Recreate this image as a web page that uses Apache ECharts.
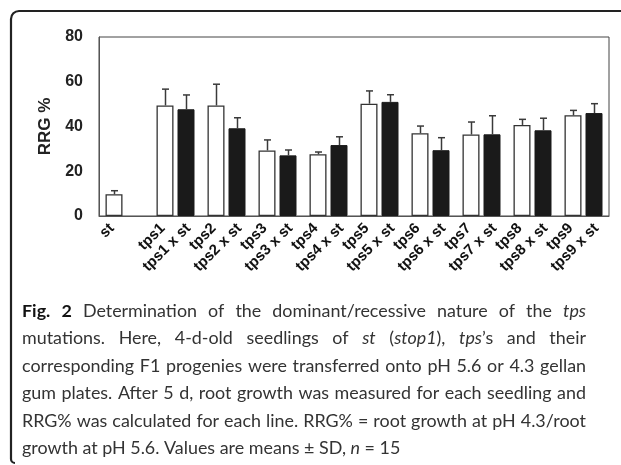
<!DOCTYPE html>
<html><head><meta charset="utf-8">
<script src="https://cdn.jsdelivr.net/npm/echarts@6/dist/echarts.min.js"></script>
<style>html,body{margin:0;padding:0;background:#fff}#c{width:621px;height:465px}</style>
</head><body><div id="c"></div>
<script>
const groups = ['st','tps1','tps2','tps3','tps4','tps5','tps6','tps7','tps8','tps9'];
const barLabels = ['st','','tps1','tps1 x st','tps2','tps2 x st','tps3','tps3 x st','tps4','tps4 x st',
  'tps5','tps5 x st','tps6','tps6 x st','tps7','tps7 x st','tps8','tps8 x st','tps9','tps9 x st'];
const parentValues = [9.7, 49.4, 49.4, 29.3, 27.6, 50.2, 37.0, 36.4, 40.7, 45.0];
const parentSD     = [1.6, 7.3, 9.5, 4.7, 1.0, 5.7, 3.2, 5.6, 2.5, 2.2];
const f1Values     = [null, 47.7, 39.2, 27.1, 31.7, 51.0, 29.4, 36.5, 38.3, 46.0];
const f1SD         = [null, 6.4, 4.7, 2.4, 3.7, 3.2, 5.6, 8.3, 5.4, 4.2];
const yTicks = [0, 20, 40, 60, 80];
const captionLines = [
  '{b|Fig.} {b|2} Determination of the dominant/recessive nature of the {i|tps}',
  'mutations. Here, 4-d-old seedlings of {i|st} ({i|stop1}), {i|tps}\u2019s and their',
  'corresponding F1 progenies were transferred onto pH 5.6 or 4.3 gellan',
  'gum plates. After 5 d, root growth was measured for each seedling and',
  'RRG% was calculated for each line. RRG% = root growth at pH 4.3/root',
  'growth at pH 5.6. Values are means \u00b1 SD, {i|n} = 15'
];

const BAR_W = 17, GAP = 4, OFF = (BAR_W + GAP) / 2;

function errRender(offset) {
  return function (params, api) {
    const c = api.value(0);
    const x = Math.round(api.coord([c, 0])[0] + offset) + 0.5;
    const y1 = api.coord([c, api.value(1)])[1];
    const y2 = api.coord([c, api.value(1) + api.value(2)])[1];
    const st = { stroke: '#3a3a3a', lineWidth: 1.5 };
    return { type: 'group', children: [
      { type: 'line', shape: { x1: x, y1: y1, x2: x, y2: y2 }, style: st },
      { type: 'line', shape: { x1: x - 3.5, y1: y2, x2: x + 3.5, y2: y2 }, style: st }
    ]};
  };
}

// ---- caption layout (justified like the reference) ----
const capFont = 'Lato';
const capLeft = 22, capRight = 586;
const capY = [311, 338.5, 366, 393.5, 421, 448];
const mctx = document.createElement('canvas').getContext('2d');
function fontStr(k, size) { return (k === 'i' ? 'italic ' : '') + (k === 'b' ? 'bold ' : '') + size + 'px ' + capFont; }
function parseWord(w) {
  const segs = []; const re = /\{(\w)\|([^}]*)\}|([^{]+)/g; let m;
  while ((m = re.exec(w))) segs.push(m[1] ? { k: m[1], t: m[2] } : { k: '', t: m[3] });
  return segs;
}
function measureWord(w, size) {
  return parseWord(w).reduce((s, g) => { mctx.font = fontStr(g.k, size); return s + mctx.measureText(g.t).width; }, 0);
}
function spaceW(size) { mctx.font = fontStr('', size); return mctx.measureText(' ').width; }
let natMax = 0;
captionLines.slice(0, 5).forEach(l => {
  const ws = l.split(' ');
  const w = ws.reduce((s, x) => s + measureWord(x, 20), 0) + (ws.length - 1) * spaceW(20);
  natMax = Math.max(natMax, w);
});
const capSize = Math.round(20 * (capRight - capLeft - 4) / natMax * 10) / 10;
const capRich = {
  b: { fontFamily: capFont, fontSize: capSize, fontWeight: 'bold', fill: '#111' },
  i: { fontFamily: capFont, fontSize: capSize, fontStyle: 'italic', fill: '#333' }
};
const capElems = [];
captionLines.forEach((l, k) => {
  const ws = l.split(' ');
  const widths = ws.map(w => measureWord(w, capSize));
  const total = widths.reduce((a, b) => a + b, 0);
  const gap = k < captionLines.length - 1 ? (capRight - capLeft - total) / (ws.length - 1) : spaceW(capSize);
  let x = capLeft;
  ws.forEach((w, j) => {
    capElems.push({ type: 'text', x: x, y: capY[k],
      style: { text: w, fontFamily: capFont, fontSize: capSize, fill: '#333', verticalAlign: 'middle', rich: capRich } });
    x += widths[j] + gap;
  });
});

const chart = echarts.init(document.getElementById('c'), null, { renderer: 'canvas' });
const frameStyle = { fill: null, stroke: '#222', lineWidth: 2.2 };
const axisFont = 'Liberation Sans, Arial, sans-serif';

chart.setOption({
  animation: false,
  backgroundColor: '#fff',
  grid: { left: 99, top: 37, right: 12, bottom: 249, show: true, borderColor: '#444', borderWidth: 1, containLabel: false },
  xAxis: [
    { type: 'category', data: groups, axisLine: { show: true, lineStyle: { color: '#555', width: 1 } },
      axisTick: { show: false }, axisLabel: { show: false }, splitLine: { show: false } },
    { type: 'category', data: barLabels, position: 'bottom', axisLine: { show: false }, axisTick: { show: false },
      axisLabel: { interval: 0, rotate: 45, margin: 10, fontFamily: axisFont, fontWeight: 'bold', fontSize: 15, color: '#111' } }
  ],
  yAxis: {
    type: 'value', min: 0, max: 80, interval: 20,
    axisLine: { show: true, lineStyle: { color: '#555' } }, axisTick: { show: false }, splitLine: { show: false },
    axisLabel: { margin: 16, fontFamily: axisFont, fontWeight: 'bold', fontSize: 16, color: '#222',
      formatter: v => yTicks.indexOf(v) >= 0 ? String(v) : '' },
    name: 'RRG %', nameLocation: 'middle', nameRotate: 90, nameGap: 45,
    nameTextStyle: { fontFamily: axisFont, fontWeight: 'bold', fontSize: 17, color: '#222' }
  },
  series: [
    { type: 'bar', name: 'parent', xAxisIndex: 0, data: parentValues, barWidth: BAR_W, barGap: (GAP / BAR_W * 100) + '%',
      itemStyle: { color: '#fff', borderColor: '#333', borderWidth: 1.3 } },
    { type: 'bar', name: 'F1', xAxisIndex: 0, data: f1Values.map(v => v == null ? '-' : v), barWidth: BAR_W,
      itemStyle: { color: '#1a1a1a', borderColor: '#1a1a1a', borderWidth: 1 } },
    { type: 'custom', xAxisIndex: 0, renderItem: errRender(-OFF), z: 5,
      data: parentValues.map((v, i) => [i, v, parentSD[i]]) },
    { type: 'custom', xAxisIndex: 0, renderItem: errRender(OFF), z: 5,
      data: f1Values.map((v, i) => [i, v, f1SD[i]]).filter(d => d[1] != null) }
  ],
  graphic: [
    { type: 'line', shape: { x1: 19, y1: 11, x2: 622, y2: 11 }, style: frameStyle },
    { type: 'line', shape: { x1: 11, y1: 19, x2: 11, y2: 459 }, style: frameStyle },
    { type: 'arc', shape: { cx: 19, cy: 19, r: 8, startAngle: Math.PI, endAngle: Math.PI * 1.5, clockwise: true }, style: frameStyle },
    { type: 'arc', shape: { cx: 15, cy: 459, r: 4, startAngle: Math.PI * 0.5, endAngle: Math.PI, clockwise: true }, style: frameStyle }
  ].concat(capElems)
});
</script></body></html>
